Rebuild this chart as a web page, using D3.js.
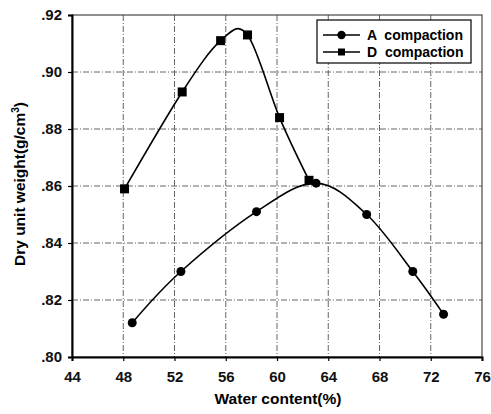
<!DOCTYPE html>
<html>
<head>
<meta charset="utf-8">
<script src="https://cdn.jsdelivr.net/npm/d3@7"></script>
<style>
  body { margin: 0; background: #fff; }
  text { font-family: "Liberation Sans", Arial, sans-serif; }
</style>
</head>
<body>
<div id="chart"></div>
<script>
const aWater = [48.7, 52.5, 58.4, 63.05, 67.0, 70.6, 73.0];
const aDensity = [0.812, 0.830, 0.851, 0.861, 0.850, 0.830, 0.815];
const dWater = [48.1, 52.6, 55.6, 57.7, 60.2, 62.5];
const dDensity = [0.859, 0.893, 0.911, 0.913, 0.884, 0.862];
const xTicks = [44, 48, 52, 56, 60, 64, 68, 72, 76];
const yTicks = [0.80, 0.82, 0.84, 0.86, 0.88, 0.90, 0.92];
const seriesNames = ["A  compaction", "D  compaction"];

const margin = {top: 15, right: 9, bottom: 57, left: 72},
    width = 491 - margin.left - margin.right,
    height = 414 - margin.top - margin.bottom;

const svg = d3.select("#chart")
  .append("svg")
    .attr("width", 491)
    .attr("height", 414)
  .append("g")
    .attr("transform", `translate(${margin.left},${margin.top})`);

const x = d3.scaleLinear().domain([44, 76]).range([0, width]);
const y = d3.scaleLinear().domain([0.80, 0.92]).range([height, 0]);

// grid
svg.append("g")
  .selectAll("line")
  .data(xTicks.slice(1, -1))
  .join("line")
    .attr("x1", d => x(d)).attr("x2", d => x(d))
    .attr("y1", 0).attr("y2", height)
    .attr("stroke", "#666")
    .attr("stroke-width", 1)
    .attr("stroke-dasharray", "6,2,1,2");
svg.append("g")
  .selectAll("line")
  .data(yTicks.slice(1, -1))
  .join("line")
    .attr("y1", d => y(d)).attr("y2", d => y(d))
    .attr("x1", 0).attr("x2", width)
    .attr("stroke", "#666")
    .attr("stroke-width", 1)
    .attr("stroke-dasharray", "6,2,1,2");

// frame
svg.append("rect")
  .attr("width", width).attr("height", height)
  .attr("fill", "none").attr("stroke", "#222").attr("stroke-width", 1);

const xAxis = svg.append("g")
  .attr("transform", `translate(0,${height})`)
  .call(d3.axisBottom(x).tickValues(xTicks).tickSize(4).tickPadding(10).tickFormat(d3.format("d")));
const yAxis = svg.append("g")
  .call(d3.axisLeft(y).tickValues(yTicks).tickSize(4).tickPadding(6).tickFormat(d => d3.format(".2f")(d).replace(/^0/, "")));

[xAxis, yAxis].forEach(a => {
  a.select(".domain").attr("stroke", "#000").attr("stroke-width", 2);
  a.selectAll("line").attr("stroke", "#000").attr("stroke-width", 1.2);
  a.selectAll("text")
    .style("font-size", "15px")
    .style("font-weight", "bold")
    .attr("fill", "#111");
});

svg.append("text")
  .attr("text-anchor", "middle")
  .attr("x", width / 2 + 1)
  .attr("y", height + 47)
  .style("font-size", "15.5px")
  .style("font-weight", "bold")
  .text("Water content(%)");

const yTitle = svg.append("text")
  .attr("text-anchor", "middle")
  .attr("transform", `translate(-47,${height / 2 - 2}) rotate(-90)`)
  .style("font-size", "15.5px")
  .style("font-weight", "bold");
yTitle.append("tspan").text("Dry unit weight(g/cm");
yTitle.append("tspan").attr("dy", -6).style("font-size", "10px").text("3");
yTitle.append("tspan").attr("dy", 6).text(")");

const line = d3.line()
  .x(d => x(d[0]))
  .y(d => y(d[1]))
  .curve(d3.curveCardinal.tension(0));

const aData = aWater.map((w, i) => [w, aDensity[i]]);
const dData = dWater.map((w, i) => [w, dDensity[i]]);

svg.append("path").datum(aData)
  .attr("d", line).attr("fill", "none").attr("stroke", "#000").attr("stroke-width", 1.6);
svg.append("path").datum(dData)
  .attr("d", line).attr("fill", "none").attr("stroke", "#000").attr("stroke-width", 1.6);

svg.selectAll(".aPt").data(aData).join("circle")
  .attr("cx", d => x(d[0])).attr("cy", d => y(d[1])).attr("r", 4.5).attr("fill", "#000");
svg.selectAll(".dPt").data(dData).join("rect")
  .attr("x", d => x(d[0]) - 4.5).attr("y", d => y(d[1]) - 4.5)
  .attr("width", 9).attr("height", 9).attr("fill", "#000");

// legend
const lg = svg.append("g").attr("transform", `translate(${317 - margin.left},${20 - margin.top})`);
lg.append("rect").attr("width", 154).attr("height", 43)
  .attr("fill", "#fff").attr("stroke", "#000").attr("stroke-width", 1.2);
seriesNames.forEach((name, i) => {
  const cy = 15 + i * 17;
  lg.append("line").attr("x1", 6).attr("x2", 43).attr("y1", cy).attr("y2", cy)
    .attr("stroke", "#000").attr("stroke-width", 1.6);
  if (i === 0) {
    lg.append("circle").attr("cx", 24.5).attr("cy", cy).attr("r", 4.2).attr("fill", "#000");
  } else {
    lg.append("rect").attr("x", 21).attr("y", cy - 3.5).attr("width", 7).attr("height", 7).attr("fill", "#000");
  }
  lg.append("text").attr("x", 50).attr("y", cy + 5)
    .style("font-size", "14px").style("font-weight", "bold")
    .style("white-space", "pre").text(name);
});
</script>
</body>
</html>
